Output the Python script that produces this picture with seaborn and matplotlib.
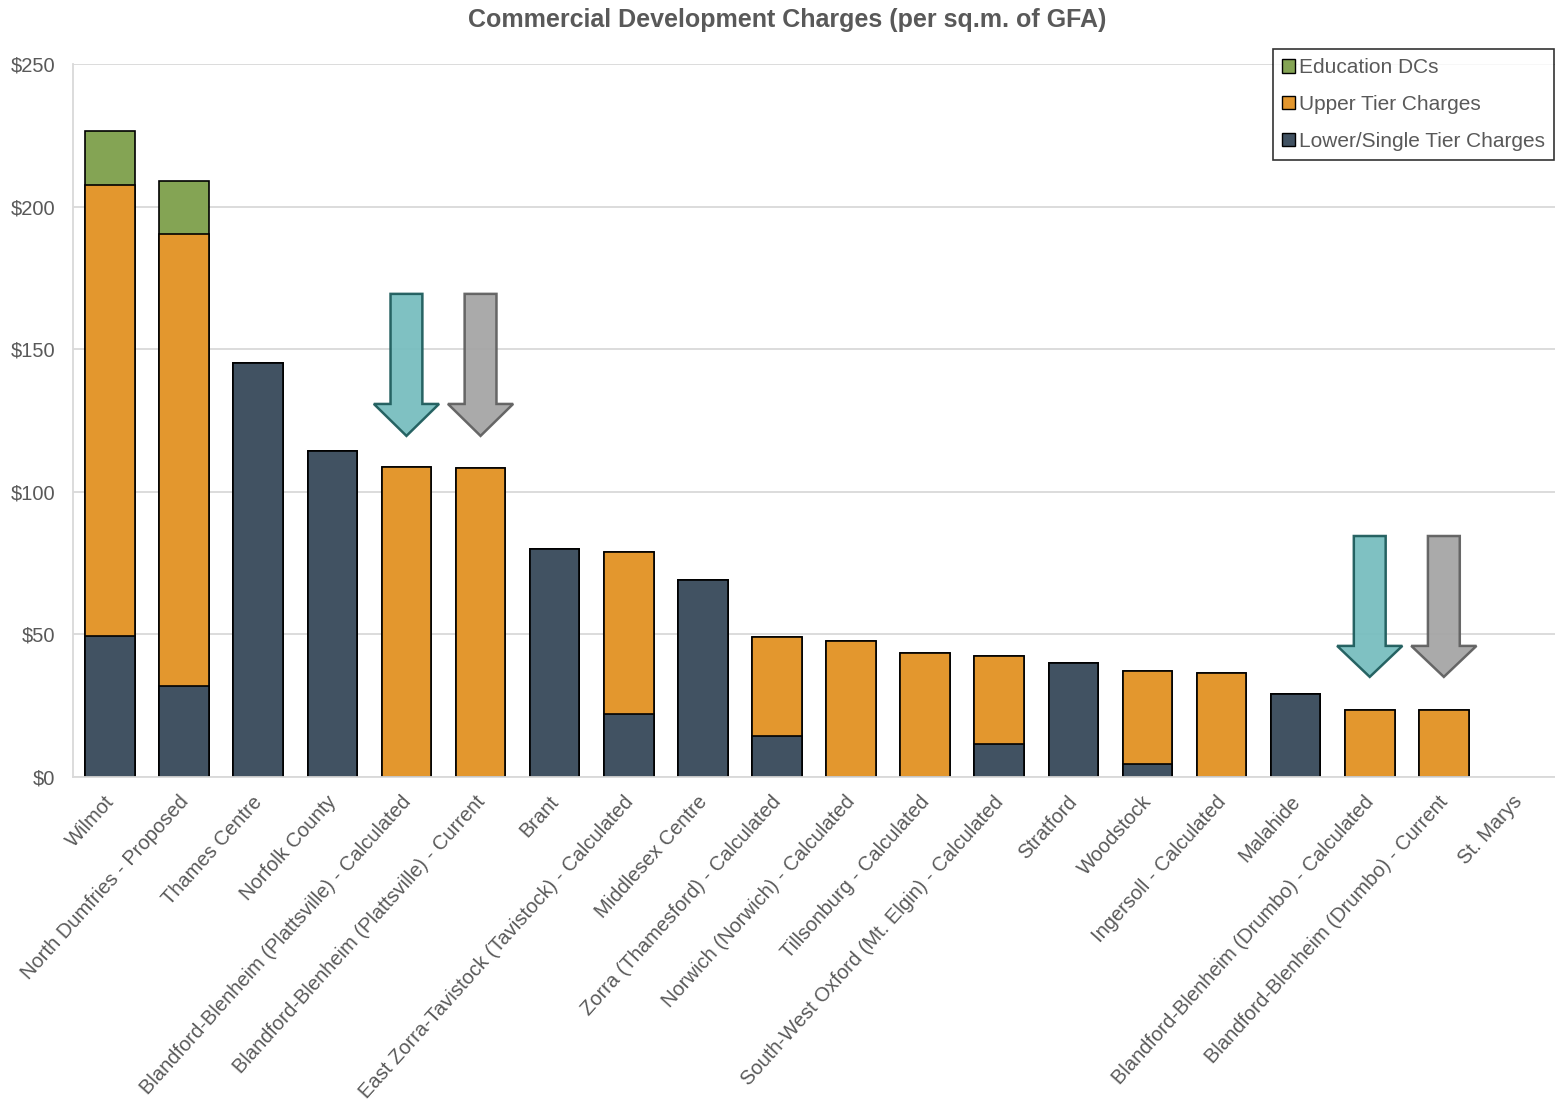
import numpy as np
import pandas as pd
import matplotlib
matplotlib.use("Agg")
import matplotlib.pyplot as plt
import matplotlib.transforms as mtransforms
from matplotlib.patches import Patch
from matplotlib.ticker import FuncFormatter
import seaborn as sns

# Commercial development charges per sq.m. of GFA, by municipality
municipalities = [
    "Wilmot",
    "North Dumfries - Proposed",
    "Thames Centre",
    "Norfolk County",
    "Blandford-Blenheim (Plattsville) - Calculated",
    "Blandford-Blenheim (Plattsville) - Current",
    "Brant",
    "East Zorra-Tavistock (Tavistock) - Calculated",
    "Middlesex Centre",
    "Zorra (Thamesford) - Calculated",
    "Norwich (Norwich) - Calculated",
    "Tillsonburg - Calculated",
    "South-West Oxford (Mt. Elgin) - Calculated",
    "Stratford",
    "Woodstock",
    "Ingersoll - Calculated",
    "Malahide",
    "Blandford-Blenheim (Drumbo) - Calculated",
    "Blandford-Blenheim (Drumbo) - Current",
    "St. Marys",
]
lower_tier = [49.4, 31.9, 145.2, 114.3, 0, 0, 79.9, 22.1, 69.1, 14.4,
              0, 0, 11.6, 40.0, 4.6, 0, 29.1, 0, 0, 0]
upper_tier = [158.2, 158.5, 0, 0, 108.7, 108.3, 0, 56.8, 0, 34.7,
              47.7, 43.5, 30.8, 0, 32.6, 36.5, 0, 23.5, 23.5, 0]
education = [19.0, 18.6, 0, 0, 0, 0, 0, 0, 0, 0,
             0, 0, 0, 0, 0, 0, 0, 0, 0, 0]

# Highlight arrows: (municipality, shaft top, tip) in $ per sq.m.
highlight_arrows = [
    ("Blandford-Blenheim (Plattsville) - Calculated", 169.4, 119.6, "teal"),
    ("Blandford-Blenheim (Plattsville) - Current", 169.4, 119.6, "grey"),
    ("Blandford-Blenheim (Drumbo) - Calculated", 84.5, 35.1, "teal"),
    ("Blandford-Blenheim (Drumbo) - Current", 84.5, 35.1, "grey"),
]

df = pd.DataFrame({
    "municipality": municipalities,
    "lower": lower_tier,
    "upper": upper_tier,
    "education": education,
})
df["lower_upper"] = df["lower"] + df["upper"]
df["total"] = df["lower_upper"] + df["education"]

sns.set_theme(style="white")
plt.rcParams["font.family"] = ["Liberation Sans", "DejaVu Sans"]

TEXT = "#595959"
C_EDU = "#84A454"
C_UPPER = "#E3972E"
C_LOWER = "#415262"

fig = plt.figure(figsize=(15.55, 11.14), dpi=100)
ax = fig.add_axes([73 / 1555, 337 / 1114, 1482 / 1555, 713 / 1114])

ax.yaxis.grid(True, color="#D9D9D9", linewidth=1.3, zorder=0)
ax.set_axisbelow(True)

layers = [("total", C_EDU), ("lower_upper", C_UPPER), ("lower", C_LOWER)]
for col, colour in layers:
    sns.barplot(data=df, x="municipality", y=col, order=municipalities,
                color=colour, width=0.67, edgecolor="black", linewidth=1.2,
                saturation=1, ax=ax, zorder=2)
for p in ax.patches:
    if p.get_height() == 0:
        p.set_linewidth(0)

arrow_styles = {
    "teal": dict(facecolor="#78BEBF", edgecolor="#1E5C5C", alpha=0.95),
    "grey": dict(facecolor="#A6A6A6", edgecolor="#606060", alpha=0.95),
}
for name, y0, y1, style in highlight_arrows:
    xi = municipalities.index(name)
    ax.arrow(xi, y0, 0, y1 - y0, width=0.43, head_width=0.88,
             head_length=(y0 - y1) * 0.225 if y0 > 150 else (y0 - y1) * 0.22,
             length_includes_head=True, linewidth=1.8, zorder=4,
             **arrow_styles[style])

ax.set_ylim(0, 250)
ax.set_xlim(-0.5, len(municipalities) - 0.5)
ax.set_yticks(np.arange(0, 251, 50))
ax.yaxis.set_major_formatter(FuncFormatter(lambda v, _: f"${v:.0f}"))
ax.set_xlabel("")
ax.set_ylabel("")
ax.tick_params(axis="both", length=0, labelsize=14.5, labelcolor=TEXT)
ax.tick_params(axis="y", pad=13)
ax.tick_params(axis="x", pad=11)
shift = mtransforms.ScaledTranslation(-6 / 100, 0, fig.dpi_scale_trans)
for lbl in ax.get_xticklabels():
    lbl.set_rotation(48)
    lbl.set_ha("right")
    lbl.set_va("top")
    lbl.set_rotation_mode("anchor")
    lbl.set_transform(lbl.get_transform() + shift)

for side in ["top", "right"]:
    ax.spines[side].set_visible(False)
ax.spines["left"].set_color("#D9D9D9")
ax.spines["left"].set_linewidth(1.3)
ax.spines["bottom"].set_color("#D9D9D9")
ax.spines["bottom"].set_linewidth(1.3)

fig.suptitle("Commercial Development Charges (per sq.m. of GFA)",
             x=0.506, y=0.993, fontsize=18, fontweight="bold", color=TEXT)

handles = [
    Patch(facecolor=C_EDU, edgecolor="black", label="Education DCs"),
    Patch(facecolor=C_UPPER, edgecolor="black", label="Upper Tier Charges"),
    Patch(facecolor=C_LOWER, edgecolor="black", label="Lower/Single Tier Charges"),
]
leg = ax.legend(handles=handles, loc="upper right",
                bbox_to_anchor=(0.9995, 1.021), frameon=True, fancybox=False,
                fontsize=15, labelcolor=TEXT, handlelength=0.6,
                handleheight=0.6, handletextpad=0.2, labelspacing=0.85,
                borderpad=0.45, borderaxespad=0)
leg.get_frame().set_edgecolor("black")
leg.get_frame().set_linewidth(1.2)

fig.savefig("out.png", dpi=100)
